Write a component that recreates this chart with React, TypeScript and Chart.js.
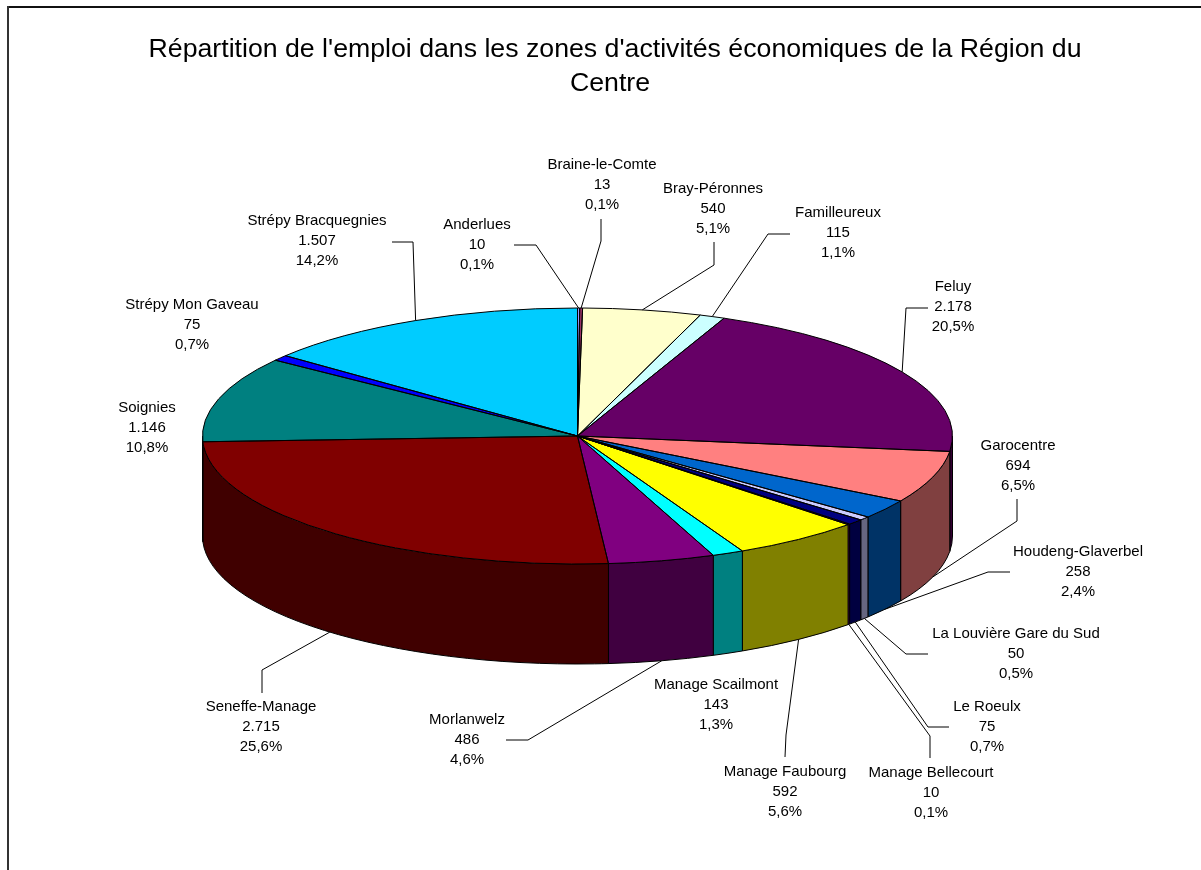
import React, { useEffect, useRef } from "react";
import { Chart, registerables } from "chart.js";

Chart.register(...registerables);

// ---------- data ----------
const titleLines = [
  "Répartition de l'emploi dans les zones d'activités économiques de la Région du",
  "Centre",
];

const categories = [
  "Anderlues",
  "Braine-le-Comte",
  "Bray-Péronnes",
  "Familleureux",
  "Feluy",
  "Garocentre",
  "Houdeng-Glaverbel",
  "La Louvière Gare du Sud",
  "Le Roeulx",
  "Manage Bellecourt",
  "Manage Faubourg",
  "Manage Scailmont",
  "Morlanwelz",
  "Seneffe-Manage",
  "Soignies",
  "Strépy Mon Gaveau",
  "Strépy Bracquegnies",
];

const values = [10, 13, 540, 115, 2178, 694, 258, 50, 75, 10, 592, 143, 486, 2715, 1146, 75, 1507];

const colors = [
  "#9999FF", "#993366", "#FFFFCC", "#CCFFFF", "#660066", "#FF8080", "#0066CC", "#CCCCFF",
  "#000080", "#FF00FF", "#FFFF00", "#00FFFF", "#800080", "#800000", "#008080", "#0000FF", "#00CCFF",
];

// ---------- label layout (page coordinates: centre x, centre y of first line) ----------
const labelCenters: [number, number][] = [
  [477, 225], [602, 165], [713, 189], [838, 213], [953, 287], [1018, 446], [1078, 552],
  [1016, 634], [987, 707], [931, 773], [785, 772], [716, 685], [467, 720], [261, 707],
  [147, 408], [192, 305], [317, 221],
];

// leader line: label-side start point and elbow point (page coords); anchor on slice is computed
const leaderPaths: ([number, number, number, number] | null)[] = [
  [514, 245, 536, 245],
  [601, 219, 601, 241],
  [714, 242, 714, 265],
  [790, 234, 768, 234],
  [928, 308, 906, 308],
  [1017, 499, 1017, 521],
  [1010, 572, 988, 572],
  [928, 654, 906, 654],
  [949, 727, 928, 727],
  [930, 758, 930, 736],
  [785, 757, 786, 735],
  null,
  [506, 740, 528, 740],
  [262, 693, 262, 670],
  null,
  null,
  [392, 242, 413, 242],
];

// ---------- geometry ----------
const OX = 7;
const OY = 6;
const CANVAS_W = 1201 - OX;
const CANVAS_H = 870 - OY;
const PIE = { cx: 577.5 - OX, cy: 436 - OY, rx: 375, ry: 128, depth: 100 };
const LABEL_FONT = '15px "Liberation Sans", Arial, sans-serif';
const TITLE_FONT = '26.7px "Liberation Sans", Arial, sans-serif';

const total = values.reduce((a, b) => a + b, 0);

function fmtValue(v: number): string {
  return String(v).replace(/\B(?=(\d{3})+(?!\d))/g, ".");
}
function fmtPct(v: number): string {
  return ((v / total) * 100).toFixed(1).replace(".", ",") + "%";
}
function darken(hex: string): string {
  const n = parseInt(hex.slice(1), 16);
  const r = Math.round(((n >> 16) & 255) * 0.5);
  const g = Math.round(((n >> 8) & 255) * 0.5);
  const b = Math.round((n & 255) * 0.5);
  return `rgb(${r},${g},${b})`;
}

const pie3dPlugin = {
  id: "pie3d",
  beforeDraw(chart: any) {
    const ctx: CanvasRenderingContext2D = chart.ctx;
    ctx.save();
    ctx.fillStyle = "#111";
    ctx.fillRect(0, 0, chart.width, 2);
    ctx.fillStyle = "#333";
    ctx.fillRect(0, 0, 2, chart.height);
    ctx.restore();
  },
  beforeDatasetsDraw(chart: any) {
    const ctx: CanvasRenderingContext2D = chart.ctx;
    const arcs = chart.getDatasetMeta(0).data;
    const { cx, cy, rx, ry, depth } = PIE;
    // side walls (front half only)
    ctx.save();
    ctx.lineWidth = 1;
    ctx.strokeStyle = "#000";
    ctx.lineJoin = "round";
    arcs.forEach((arc: any, i: number) => {
      const { startAngle, endAngle } = arc.getProps(["startAngle", "endAngle"], true);
      const a = Math.max(startAngle, 0);
      const b = Math.min(endAngle, Math.PI);
      if (b <= a) return;
      ctx.beginPath();
      ctx.ellipse(cx, cy, rx, ry, 0, a, b);
      ctx.ellipse(cx, cy + depth, rx, ry, 0, b, a, true);
      ctx.closePath();
      ctx.fillStyle = darken(colors[i]);
      ctx.fill();
      ctx.stroke();
    });
    ctx.restore();
    // squash the library's pie into the top ellipse
    const { x, y, outerRadius } = arcs[0].getProps(["x", "y", "outerRadius"], true);
    ctx.save();
    ctx.translate(cx, cy);
    ctx.scale(rx / outerRadius, ry / outerRadius);
    ctx.translate(-x, -y);
  },
  afterDatasetsDraw(chart: any) {
    const ctx: CanvasRenderingContext2D = chart.ctx;
    ctx.restore();
    const arcs = chart.getDatasetMeta(0).data;
    const { cx, cy, rx, ry, depth } = PIE;
    ctx.save();
    ctx.lineWidth = 1;
    ctx.strokeStyle = "#000";
    ctx.lineJoin = "round";
    // top face outlines
    arcs.forEach((arc: any) => {
      const { startAngle, endAngle } = arc.getProps(["startAngle", "endAngle"], true);
      ctx.beginPath();
      ctx.moveTo(cx, cy);
      ctx.ellipse(cx, cy, rx, ry, 0, startAngle, endAngle);
      ctx.closePath();
      ctx.stroke();
    });
    // leader lines
    arcs.forEach((arc: any, i: number) => {
      const lp = leaderPaths[i];
      if (!lp) return;
      const { startAngle, endAngle } = arc.getProps(["startAngle", "endAngle"], true);
      const m = (startAngle + endAngle) / 2;
      const s = Math.sin(m);
      const ax = cx + rx * Math.cos(m);
      const ay = cy + ry * s + (s > 0 ? depth : 0);
      ctx.beginPath();
      ctx.moveTo(lp[0] - OX, lp[1] - OY);
      ctx.lineTo(lp[2] - OX, lp[3] - OY);
      ctx.lineTo(ax, ay);
      ctx.stroke();
    });
    // labels
    ctx.fillStyle = "#000";
    ctx.font = LABEL_FONT;
    ctx.textAlign = "center";
    ctx.textBaseline = "middle";
    categories.forEach((name, i) => {
      const [lx, ly] = labelCenters[i];
      const lines = [name, fmtValue(values[i]), fmtPct(values[i])];
      lines.forEach((t, k) => ctx.fillText(t, lx - OX, ly - OY + k * 20));
    });
    // title
    ctx.font = TITLE_FONT;
    ctx.textBaseline = "alphabetic";
    ctx.fillText(titleLines[0], 615 - OX, 57 - OY);
    ctx.fillText(titleLines[1], 610 - OX, 91 - OY);
    ctx.restore();
  },
};

export default function App() {
  const ref = useRef<HTMLCanvasElement>(null);
  useEffect(() => {
    document.documentElement.style.overflow = "hidden";
    document.body.style.overflow = "hidden";
    const chart = new Chart(ref.current as HTMLCanvasElement, {
      type: "pie",
      data: {
        labels: categories,
        datasets: [
          {
            data: values,
            backgroundColor: colors,
            borderWidth: 0,
            clip: false as any,
          },
        ],
      },
      options: {
        responsive: false,
        maintainAspectRatio: false,
        animation: false,
        events: [],
        layout: {
          padding: {
            left: PIE.cx - 375,
            right: CANVAS_W - (PIE.cx + 375),
            top: PIE.cy - 375,
            bottom: CANVAS_H - (PIE.cy + 375),
          },
        },
        plugins: {
          legend: { display: false },
          tooltip: { enabled: false },
          title: { display: false },
        },
      },
      plugins: [pie3dPlugin],
    });
    return () => chart.destroy();
  }, []);
  return (
    <canvas
      ref={ref}
      width={CANVAS_W}
      height={CANVAS_H}
      style={{ position: "fixed", left: OX, top: OY, width: CANVAS_W, height: CANVAS_H }}
    />
  );
}
